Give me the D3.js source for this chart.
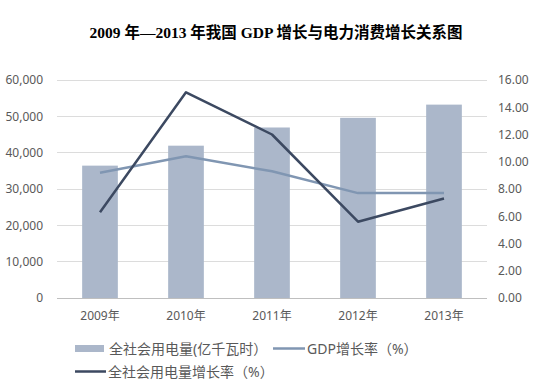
<!DOCTYPE html>
<html>
<head>
<meta charset="utf-8">
<script src="https://cdn.jsdelivr.net/npm/d3@7"></script>
<style>
  body { margin: 0; background: #fff; }
  svg { display: block; }
</style>
</head>
<body>
<script>
const years = ["2009年", "2010年", "2011年", "2012年", "2013年"];
const power = [36430, 41923, 46928, 49591, 53223];      // 全社会用电量(亿千瓦时)
const gdpGrowth = [9.2, 10.4, 9.3, 7.7, 7.7];           // GDP增长率(%)
const powerGrowth = [6.3, 15.1, 12.0, 5.6, 7.3];        // 全社会用电量增长率(%)
const leftTicks = [0, 10000, 20000, 30000, 40000, 50000, 60000];
const rightTicks = [0, 2, 4, 6, 8, 10, 12, 14, 16];

const W = 542, H = 385;
const plot = {left: 57, right: 487, top: 80, bottom: 298};
const barColor = "#abb7ca", gdpColor = "#8096b2", pwColor = "#3c4961";
const tickFont = "'Noto Sans', 'Noto Sans CJK SC', sans-serif";

const svg = d3.select("body").append("svg")
  .attr("width", W).attr("height", H);

// title
svg.append("text")
  .attr("x", 276).attr("y", 38)
  .attr("text-anchor", "middle")
  .attr("font-family", "'Liberation Serif', 'Noto Sans CJK SC', serif")
  .attr("font-weight", "bold")
  .attr("font-size", 15.5)
  .attr("fill", "#000")
  .text("2009 年—2013 年我国 GDP 增长与电力消费增长关系图");

const x = d3.scaleBand().domain(years)
  .range([plot.left, plot.right]).paddingInner(0.585).paddingOuter(0.2925);
const yL = d3.scaleLinear().domain([0, 60000]).range([plot.bottom, plot.top]);
const yR = d3.scaleLinear().domain([0, 16]).range([plot.bottom, plot.top]);

// gridlines
svg.append("g").selectAll("line")
  .data(leftTicks)
  .join("line")
  .attr("x1", plot.left).attr("x2", plot.right)
  .attr("y1", d => yL(d)).attr("y2", d => yL(d))
  .attr("stroke", d => d === 0 ? "#bfbfbf" : "#dcdcdc")
  .attr("stroke-width", 1)
  .attr("shape-rendering", "crispEdges");

// left axis
const axL = svg.append("g")
  .attr("transform", `translate(${plot.left},0)`)
  .call(d3.axisLeft(yL).tickValues(leftTicks).tickSize(0).tickPadding(14)
    .tickFormat(d3.format(",")));
axL.select(".domain").remove();
axL.selectAll("text").attr("font-family", tickFont).attr("font-size", 12).attr("fill", "#595959");

// right axis
const axR = svg.append("g")
  .attr("transform", `translate(${plot.right},0)`)
  .call(d3.axisRight(yR).tickValues(rightTicks).tickSize(0).tickPadding(11)
    .tickFormat(d3.format(".2f")));
axR.select(".domain").remove();
axR.selectAll("text").attr("font-family", tickFont).attr("font-size", 12).attr("fill", "#595959");

// x axis labels
const axX = svg.append("g")
  .attr("transform", `translate(0,${plot.bottom})`)
  .call(d3.axisBottom(x).tickSize(0).tickPadding(13));
axX.select(".domain").remove();
axX.selectAll("text").attr("font-family", tickFont).attr("font-size", 12).attr("fill", "#595959");

// bars
svg.append("g").selectAll("rect")
  .data(power)
  .join("rect")
  .attr("x", (d, i) => x(years[i]))
  .attr("width", x.bandwidth())
  .attr("y", d => yL(d))
  .attr("height", d => plot.bottom - yL(d))
  .attr("fill", barColor);

const cx = (d, i) => x(years[i]) + x.bandwidth() / 2;

svg.append("path")
  .datum(gdpGrowth)
  .attr("d", d3.line().x(cx).y(d => yR(d)))
  .attr("fill", "none")
  .attr("stroke", gdpColor)
  .attr("stroke-width", 2.5)
  .attr("stroke-linejoin", "round");

svg.append("path")
  .datum(powerGrowth)
  .attr("d", d3.line().x(cx).y(d => yR(d)))
  .attr("fill", "none")
  .attr("stroke", pwColor)
  .attr("stroke-width", 2.5)
  .attr("stroke-linejoin", "round");

// legend
const lg = svg.append("g")
  .attr("font-family", tickFont).attr("font-size", 14).attr("fill", "#595959");

lg.append("rect").attr("x", 75).attr("y", 345).attr("width", 29).attr("height", 7).attr("fill", barColor);
lg.append("text").attr("x", 109).attr("y", 354).text("全社会用电量(亿千瓦时）");

lg.append("line").attr("x1", 273).attr("x2", 305).attr("y1", 348.5).attr("y2", 348.5)
  .attr("stroke", gdpColor).attr("stroke-width", 2.5);
lg.append("text").attr("x", 307).attr("y", 354).text("GDP增长率（%）");

lg.append("line").attr("x1", 75).attr("x2", 106).attr("y1", 371.5).attr("y2", 371.5)
  .attr("stroke", pwColor).attr("stroke-width", 2.5);
lg.append("text").attr("x", 108).attr("y", 377).text("全社会用电量增长率（%）");
</script>
</body>
</html>
